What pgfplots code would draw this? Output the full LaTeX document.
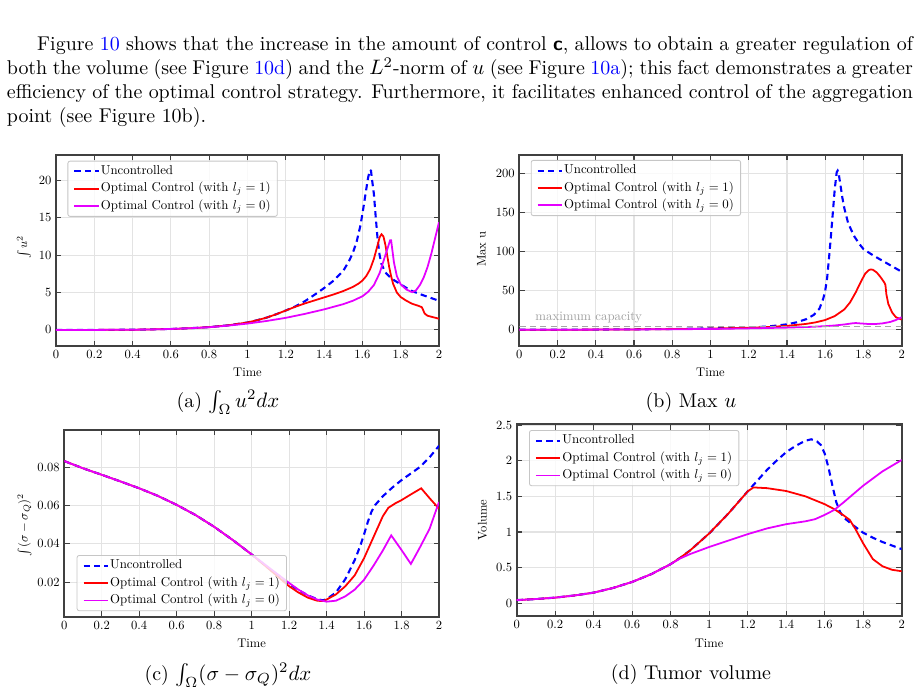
\documentclass[border=0pt]{standalone}
\usepackage{graphicx}
\usepackage{pgfplots}
\pgfplotsset{compat=1.18}
\usepackage{xcolor}

\definecolor{ucblue}{rgb}{0,0,1}
\definecolor{ocred}{rgb}{1,0,0}
\definecolor{ocmag}{rgb}{0.9,0,1}

% small labels: 10pt design size, scaled down
\newcommand{\smlab}[1]{\scalebox{0.6}{#1}}
\newcommand{\leglab}[1]{\scalebox{0.615}{#1}}

\tikzset{ylab/.style={rotate=90, anchor=center, inner sep=0pt}}

\pgfplotsset{
  panel/.style={
    scale only axis,
    xmin=0, xmax=2,
    xtick={0,0.2,0.4,0.6,0.8,1,1.2,1.4,1.6,1.8,2},
    grid=major,
    grid style={gray!22, line width=0.5pt},
    axis line style={black!75, line width=0.8pt},
    tick align=inside,
    major tick length=2.5pt,
    tick style={black!75, line width=0.5pt},
    tick label style={inner sep=2pt},
    xticklabel={\smlab{$\pgfmathprintnumber{\tick}$}},
    yticklabel={\smlab{$\pgfmathprintnumber{\tick}$}},
    xlabel={\smlab{Time}},
    xlabel style={at={(axis description cs:0.5,-0.14)}, anchor=center},
    scaled y ticks=false,
    legend style={draw=gray!45, rounded corners=1pt,
      fill=white, fill opacity=0.8, text opacity=1,
      inner xsep=2.6pt, inner ysep=1.2pt, row sep=0.9pt,
      nodes={inner sep=0.6pt, text height=4.6pt, text depth=1.6pt}},
    legend cell align=left,
    legend image code/.code={\draw[##1] (0pt,0pt) -- (11.6pt,0pt);},
  },
  unc/.style={ucblue, line width=1pt, dash pattern=on 3pt off 2pt},
  oc1/.style={ocred, line width=0.85pt},
  oc0/.style={ocmag, line width=0.85pt},
}

\begin{document}
\begin{tikzpicture}
\path[use as bounding box] (0pt,0pt) rectangle (440pt,-330.48pt);

% ---------------- (a) integral of u^2 ----------------
\begin{axis}[panel,
  at={(26.78pt,-165.48pt)}, anchor=south west,
  width=183.17pt, height=91.35pt,
  ymin=-2.15, ymax=23.4,
  ytick={0,5,10,15,20},
  legend style={at={(0.03,0.97)}, anchor=north west},
]
\addplot[unc] coordinates {
(0,0) (0.1,0) (0.2,0.005) (0.3,0.015) (0.4,0.03) (0.5,0.07) (0.6,0.13)
(0.7,0.23) (0.8,0.38) (0.9,0.62) (1.0,1.0) (1.05,1.3) (1.1,1.65) (1.15,2.1)
(1.2,2.6) (1.25,3.15) (1.3,3.85) (1.35,4.7) (1.4,5.6) (1.45,6.6) (1.5,7.9)
(1.53,9.2) (1.55,10.3) (1.57,11.8) (1.59,14.0) (1.605,16.3) (1.62,18.8)
(1.63,20.4) (1.64,21.4) (1.645,21.3) (1.65,20.2) (1.66,18.2) (1.67,15.0)
(1.68,12.0) (1.69,10.0) (1.70,8.8) (1.72,7.7) (1.75,6.9) (1.8,6.1)
(1.85,5.3) (1.9,4.8) (1.95,4.35) (2.0,3.9)};
\addlegendentry{\leglab{Uncontrolled}}
\addplot[oc1] coordinates {
(0,0) (0.1,0) (0.2,0.005) (0.3,0.015) (0.4,0.03) (0.5,0.07) (0.6,0.13)
(0.7,0.23) (0.8,0.38) (0.9,0.62) (1.0,1.0) (1.05,1.3) (1.1,1.65) (1.15,2.1)
(1.2,2.6) (1.25,3.1) (1.3,3.55) (1.35,3.95) (1.4,4.35) (1.45,4.75) (1.5,5.2)
(1.55,5.75) (1.58,6.2) (1.6,6.6) (1.62,7.2) (1.64,8.1) (1.66,9.5) (1.68,11.4)
(1.69,12.4) (1.70,12.8) (1.71,12.5) (1.72,11.4) (1.73,9.9) (1.74,8.4)
(1.75,7.2) (1.76,6.2) (1.78,5.0) (1.8,4.4) (1.83,3.9) (1.86,3.5) (1.89,3.25)
(1.91,3.05) (1.915,2.8) (1.925,2.2) (1.94,1.9) (1.97,1.7) (2.0,1.5)};
\addlegendentry{\leglab{Optimal Control (with $l_j=1$)}}
\addplot[oc0] coordinates {
(0,0) (0.1,0) (0.2,0.005) (0.3,0.015) (0.4,0.03) (0.5,0.07) (0.6,0.13)
(0.7,0.23) (0.8,0.36) (0.9,0.58) (1.0,0.85) (1.1,1.2) (1.2,1.62) (1.3,2.15)
(1.4,2.75) (1.5,3.45) (1.55,3.9) (1.6,4.5) (1.63,5.1) (1.66,6.0) (1.69,7.6)
(1.71,9.2) (1.73,10.8) (1.745,12.0) (1.75,12.0) (1.755,11.0) (1.765,9.0)
(1.78,7.2) (1.8,6.1) (1.83,5.4) (1.86,5.05) (1.88,5.3) (1.9,6.0) (1.92,7.0)
(1.94,8.4) (1.96,10.2) (1.98,12.3) (2.0,14.4)};
\addlegendentry{\leglab{Optimal Control (with $l_j=0$)}}
\end{axis}

% ---------------- (b) maximum of u ----------------
\begin{axis}[panel,
  at={(248.36pt,-165.33pt)}, anchor=south west,
  width=182.89pt, height=91.20pt,
  ymin=-20.3, ymax=223,
  ytick={0,50,100,150,200},
  legend style={at={(0.03,0.974)}, anchor=north west},
]
\addplot[unc] coordinates {
(0,0) (0.2,0.1) (0.4,0.3) (0.6,0.6) (0.8,1.0) (1.0,1.8) (1.1,2.3) (1.2,3.0)
(1.3,4.2) (1.35,5.5) (1.4,7.0) (1.45,9.5) (1.5,13.5) (1.54,19) (1.57,27)
(1.59,40) (1.6,50) (1.61,66) (1.62,92) (1.63,120) (1.64,150) (1.65,180)
(1.66,201) (1.665,203) (1.67,200) (1.68,184) (1.69,168) (1.7,155) (1.72,136)
(1.75,120) (1.78,109) (1.8,103) (1.85,95) (1.9,88) (1.95,81) (2.0,74)};
\addlegendentry{\leglab{Uncontrolled}}
\addplot[oc1] coordinates {
(0,0) (0.5,0.3) (0.8,0.9) (1.0,1.5) (1.2,2.6) (1.3,3.5) (1.4,5.0) (1.5,7.5)
(1.55,9.5) (1.6,12.5) (1.65,17.5) (1.7,26) (1.73,35) (1.76,48) (1.79,63)
(1.81,72) (1.83,76.5) (1.84,77) (1.85,76.5) (1.87,73) (1.89,67) (1.91,60)
(1.915,57) (1.92,45) (1.93,33) (1.95,22) (1.97,16) (2.0,13)};
\addlegendentry{\leglab{Optimal Control (with $l_j=1$)}}
\addplot[oc0] coordinates {
(0,0) (0.5,0.3) (1.0,1.0) (1.2,1.8) (1.4,2.8) (1.5,3.5) (1.6,4.6) (1.65,5.5)
(1.7,6.8) (1.74,8.2) (1.76,8.6) (1.78,8.2) (1.82,7.5) (1.86,7.3) (1.9,8.2)
(1.94,10) (1.97,12.5) (2.0,16)};
\addlegendentry{\leglab{Optimal Control (with $l_j=0$)}}
\addplot[gray!70, line width=0.8pt, dash pattern=on 3pt off 2pt, forget plot]
  coordinates {(0,4) (2,4)};
\node[anchor=base west, text=gray!75, inner sep=0pt]
  at (axis cs:0.082,11.5) {\leglab{maximum capacity}};
\end{axis}

% ---------------- (c) distance of sigma to sigma_Q ----------------
\begin{axis}[panel,
  at={(30.75pt,-294.94pt)}, anchor=south west,
  width=179.20pt, height=89.29pt,
  ymin=0.0018, ymax=0.0998,
  ytick={0.02,0.04,0.06,0.08},
  yticklabel style={/pgf/number format/fixed,
    /pgf/number format/fixed zerofill, /pgf/number format/precision=2},
  legend style={at={(0.033,0.03)}, anchor=south west},
]
\addplot[unc] coordinates {
(0,0.0835) (0.1,0.0797) (0.2,0.0763) (0.3,0.0728) (0.4,0.0692) (0.5,0.0652)
(0.6,0.0605) (0.7,0.0552) (0.8,0.0490) (0.9,0.0420) (1.0,0.0345) (1.1,0.0265)
(1.2,0.0190) (1.25,0.0158) (1.3,0.0130) (1.35,0.0110) (1.38,0.0104)
(1.4,0.0110) (1.45,0.0145) (1.5,0.0215) (1.55,0.0315) (1.58,0.0390)
(1.6,0.0450) (1.62,0.0515) (1.64,0.0570) (1.66,0.0605) (1.7,0.0650)
(1.75,0.0695) (1.8,0.0735) (1.85,0.0770) (1.9,0.0805) (1.95,0.0855) (2.0,0.0915)};
\addlegendentry{\leglab{Uncontrolled}}
\addplot[oc1] coordinates {
(0,0.0835) (0.1,0.0797) (0.2,0.0763) (0.3,0.0728) (0.4,0.0692) (0.5,0.0652)
(0.6,0.0605) (0.7,0.0552) (0.8,0.0490) (0.9,0.0420) (1.0,0.0345) (1.1,0.0262)
(1.2,0.0178) (1.25,0.0145) (1.3,0.0118) (1.35,0.0102) (1.38,0.0100)
(1.4,0.0108) (1.45,0.0135) (1.5,0.0178) (1.55,0.0235) (1.6,0.0325)
(1.65,0.0435) (1.7,0.0545) (1.73,0.0590) (1.77,0.0615) (1.8,0.0630)
(1.85,0.0660) (1.905,0.0692) (1.95,0.0640) (2.0,0.0585)};
\addlegendentry{\leglab{Optimal Control (with $l_j=1$)}}
\addplot[oc0] coordinates {
(0,0.0835) (0.1,0.0797) (0.2,0.0763) (0.3,0.0728) (0.4,0.0692) (0.5,0.0652)
(0.6,0.0605) (0.7,0.0552) (0.8,0.0490) (0.9,0.0420) (1.0,0.0345) (1.1,0.0270)
(1.2,0.0195) (1.25,0.0160) (1.3,0.0130) (1.35,0.0108) (1.4,0.0097)
(1.45,0.0102) (1.5,0.0125) (1.55,0.0160) (1.6,0.0212) (1.65,0.0285)
(1.7,0.0365) (1.745,0.0445) (1.8,0.0368) (1.85,0.0295) (1.9,0.0385)
(1.95,0.0480) (2.0,0.0620)};
\addlegendentry{\leglab{Optimal Control (with $l_j=0$)}}
\end{axis}

% ---------------- (d) tumor volume ----------------
\begin{axis}[panel,
  at={(247.12pt,-294.61pt)}, anchor=south west,
  width=184.13pt, height=91.68pt,
  ymin=-0.178, ymax=2.51,
  ytick={0,0.5,1,1.5,2,2.5},
  legend style={at={(0.032,0.97)}, anchor=north west},
]
\addplot[unc] coordinates {
(0,0.045) (0.1,0.06) (0.2,0.08) (0.3,0.11) (0.4,0.15) (0.5,0.215) (0.6,0.30)
(0.7,0.41) (0.8,0.55) (0.85,0.64) (0.9,0.74) (1.0,0.98) (1.1,1.26) (1.2,1.57)
(1.25,1.72) (1.3,1.87) (1.35,2.0) (1.4,2.12) (1.45,2.21) (1.5,2.28)
(1.53,2.30) (1.56,2.27) (1.58,2.22) (1.6,2.10) (1.62,1.90) (1.64,1.65)
(1.66,1.42) (1.68,1.28) (1.7,1.20) (1.75,1.09) (1.8,0.99) (1.85,0.92)
(1.9,0.86) (1.95,0.81) (2.0,0.76)};
\addlegendentry{\leglab{Uncontrolled}}
\addplot[oc1] coordinates {
(0,0.045) (0.1,0.06) (0.2,0.08) (0.3,0.11) (0.4,0.15) (0.5,0.215) (0.6,0.30)
(0.7,0.41) (0.8,0.55) (0.85,0.64) (0.9,0.74) (1.0,0.98) (1.1,1.26) (1.2,1.57)
(1.23,1.625) (1.3,1.615) (1.4,1.575) (1.5,1.50) (1.6,1.39) (1.65,1.32)
(1.7,1.23) (1.73,1.17) (1.76,1.04) (1.8,0.84) (1.85,0.62) (1.9,0.52)
(1.95,0.47) (2.0,0.45)};
\addlegendentry{\leglab{Optimal Control (with $l_j=1$)}}
\addplot[oc0] coordinates {
(0,0.045) (0.1,0.06) (0.2,0.08) (0.3,0.11) (0.4,0.15) (0.5,0.215) (0.6,0.30)
(0.7,0.41) (0.8,0.55) (0.85,0.63) (0.9,0.69) (1.0,0.79) (1.1,0.88) (1.2,0.97)
(1.3,1.05) (1.4,1.11) (1.5,1.15) (1.55,1.18) (1.6,1.24) (1.65,1.31)
(1.7,1.42) (1.8,1.65) (1.9,1.85) (2.0,2.01)};
\addlegendentry{\leglab{Optimal Control (with $l_j=0$)}}
\end{axis}

% ---------------- text, axis titles and captions ----------------
\begin{scope}[x=0.47826pt, y=-0.47826pt]
\node[anchor=north west, inner sep=0pt, text width=433.3pt, align=justify,
      font=\fontsize{9.53}{11.35}\selectfont] at (6.5,36.5)
{\hyphenpenalty=10000\hspace*{14.5pt}Figure \textcolor{blue}{10} shows that the increase in the amount of control \textsf{\textbf{c}}, allows to obtain a greater regulation of\linebreak
both the volume (see Figure \textcolor{blue}{10d}) and the $L^2$-norm of $u$ (see Figure \textcolor{blue}{10a}); this fact demonstrates a greater\linebreak
efficiency of the optimal control strategy. Furthermore, it facilitates enhanced control of the aggregation\linebreak
point (see Figure 10b).};

\node[ylab] at (24,247) {\smlab{$\int u^2$}};
\node[ylab] at (481.5,249) {\smlab{Max u}};
\node[ylab] at (24.5,525) {\smlab{$\int(\sigma-\sigma_Q)^2$}};
\node[ylab] at (482.5,520) {\smlab{Volume}};

\node[anchor=base, font=\fontsize{9.53}{11.35}\selectfont] at (228,407) {(a) $\int_\Omega u^2 dx$};
\node[anchor=base, font=\fontsize{9.53}{11.35}\selectfont] at (691,407) {(b) Max $u$};
\node[anchor=base, font=\fontsize{9.53}{11.35}\selectfont] at (228,680) {(c) $\int_\Omega(\sigma-\sigma_Q)^2dx$};
\node[anchor=base, font=\fontsize{9.53}{11.35}\selectfont] at (691,679) {(d) Tumor volume};
\end{scope}
\end{tikzpicture}
\end{document}
